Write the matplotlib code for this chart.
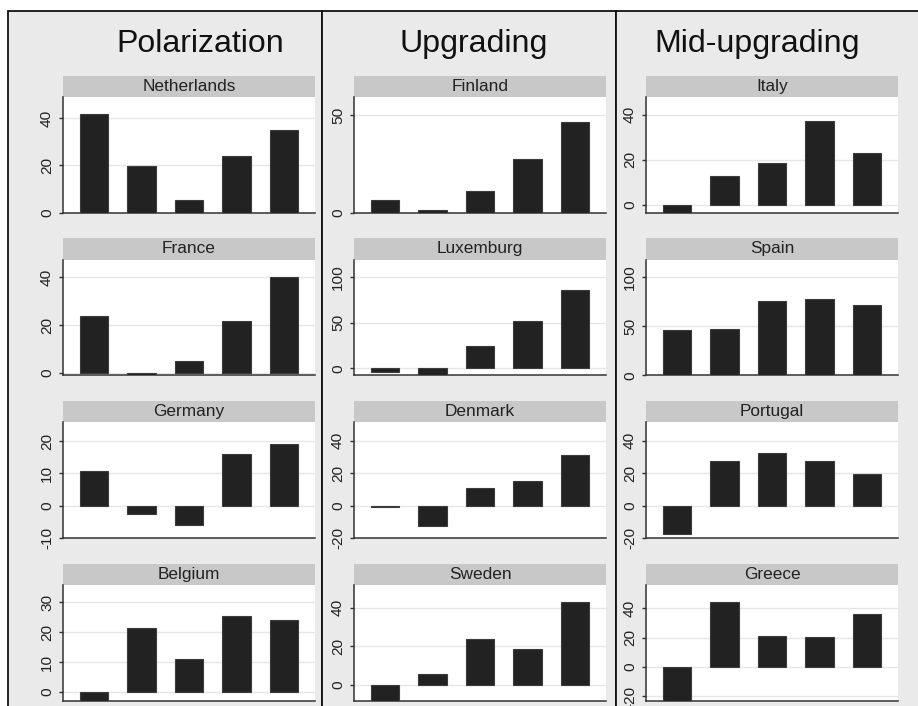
import matplotlib
matplotlib.use("Agg")
import matplotlib.pyplot as plt
from matplotlib import font_manager
from matplotlib.patches import Rectangle

# column groups and countries
groups = ["Polarization", "Upgrading", "Mid-upgrading"]
countries = [["Netherlands", "France", "Germany", "Belgium"],
             ["Finland", "Luxemburg", "Denmark", "Sweden"],
             ["Italy", "Spain", "Portugal", "Greece"]]

# five bars per country
netherlands = [41.6, 19.7, 5.4, 23.8, 35.0]
france = [23.8, -0.9, 5.0, 21.8, 40.0]
germany = [10.7, -2.6, -5.9, 16.1, 19.1]
belgium = [-2.9, 21.4, 11.0, 25.5, 24.2]
finland = [6.5, 1.5, 10.8, 27.4, 46.4]
luxemburg = [-4.5, -7.7, 24.2, 51.6, 86.0]
denmark = [-1.0, -12.8, 10.7, 15.3, 31.5]
sweden = [-8.1, 5.6, 23.6, 18.6, 42.7]
italy = [-3.4, 12.7, 18.5, 37.3, 22.9]
spain = [46.0, 47.0, 75.8, 77.8, 72.0]
portugal = [-17.6, 27.7, 32.3, 27.7, 19.4]
greece = [-22.8, 44.3, 21.2, 20.5, 35.9]

values = {"Netherlands": netherlands, "France": france, "Germany": germany,
          "Belgium": belgium, "Finland": finland, "Luxemburg": luxemburg,
          "Denmark": denmark, "Sweden": sweden, "Italy": italy,
          "Spain": spain, "Portugal": portugal, "Greece": greece}

# y ticks and axis ranges per panel
yticks = {"Netherlands": [0, 20, 40], "France": [0, 20, 40],
          "Germany": [-10, 0, 10, 20], "Belgium": [0, 10, 20, 30],
          "Finland": [0, 50], "Luxemburg": [0, 50, 100],
          "Denmark": [-20, 0, 20, 40], "Sweden": [0, 20, 40],
          "Italy": [0, 20, 40], "Spain": [0, 50, 100],
          "Portugal": [-20, 0, 20, 40], "Greece": [-20, 0, 20, 40]}
ytop = {"Netherlands": 49.0, "France": 47.3, "Germany": 25.8, "Belgium": 35.8,
        "Finland": 59.3, "Luxemburg": 119.5, "Denmark": 51.4, "Sweden": 51.7,
        "Italy": 47.8, "Spain": 118.0, "Portugal": 51.4, "Greece": 55.8}

# font: narrow sans if there is one
names = {f.name for f in font_manager.fontManager.ttflist}
if "Liberation Sans Narrow" in names:
    fam, k = "Liberation Sans Narrow", 1.0
else:
    fam, k = "Liberation Sans", 0.84
plt.rcParams["font.family"] = [fam, "DejaVu Sans"]

W, H = 918, 706
fig = plt.figure(figsize=(W / 100, H / 100), dpi=100, facecolor="white")


def fx(px):
    return px / W


def fy(py):
    return 1 - py / H


# column frames
frame_x = [8, 322, 616, 940]
for c in range(3):
    fig.add_artist(Rectangle((fx(frame_x[c]), fy(730)),
                             fx(frame_x[c + 1]) - fx(frame_x[c]), fy(11) - fy(730),
                             transform=fig.transFigure, facecolor="#eaeaea",
                             edgecolor="#111111", linewidth=1.3, zorder=0))

title_x = [200, 474, 757]
for c, g in enumerate(groups):
    fig.text(fx(title_x[c]), fy(52), g, ha="center", va="baseline",
             fontsize=27.5 * k, color="#111111")

left_px = [63, 354, 646]
plot_w = 252
plot_h = 115.5
strip_h = 21.5
x = [1, 2, 3, 4, 5]

for c in range(3):
    for r, name in enumerate(countries[c]):
        top = 97 + 162.7 * r
        ax = fig.add_axes([fx(left_px[c]), fy(top + plot_h), plot_w / W, plot_h / H])
        ax.set_facecolor("white")
        v = values[name]
        ax.bar(x, v, width=0.6, color="#222222", edgecolor="#3c3c3c",
               linewidth=0.8, zorder=3)
        ylo = min(min(v), min(yticks[name]), 0)
        ax.set_ylim(ylo, ytop[name])
        ax.set_xlim(0.35, 5.65)
        ax.set_yticks(yticks[name])
        ax.set_yticklabels([str(t) for t in yticks[name]], rotation=90,
                           va="center", fontsize=13.2 * k, color="#222222")
        ax.set_xticks([])
        ax.grid(axis="y", color="#e6e6e6", linewidth=1.0, zorder=0)
        ax.set_axisbelow(True)
        for s in ["top", "right"]:
            ax.spines[s].set_visible(False)
        for s in ["left", "bottom"]:
            ax.spines[s].set_color("#333333")
            ax.spines[s].set_linewidth(1.1)
        ax.tick_params(axis="y", length=3, width=1, color="#333333", pad=3.5)
        # strip with country name
        sh = strip_h / plot_h
        ax.add_patch(Rectangle((0, 1), 1, sh, transform=ax.transAxes,
                               facecolor="#c8c8c8", edgecolor="none", clip_on=False))
        ax.text(0.5, 1 + sh / 2, name, transform=ax.transAxes, ha="center",
                va="center", fontsize=14.8 * k, color="#222222")

fig.savefig("out.png", dpi=100, facecolor="white")
